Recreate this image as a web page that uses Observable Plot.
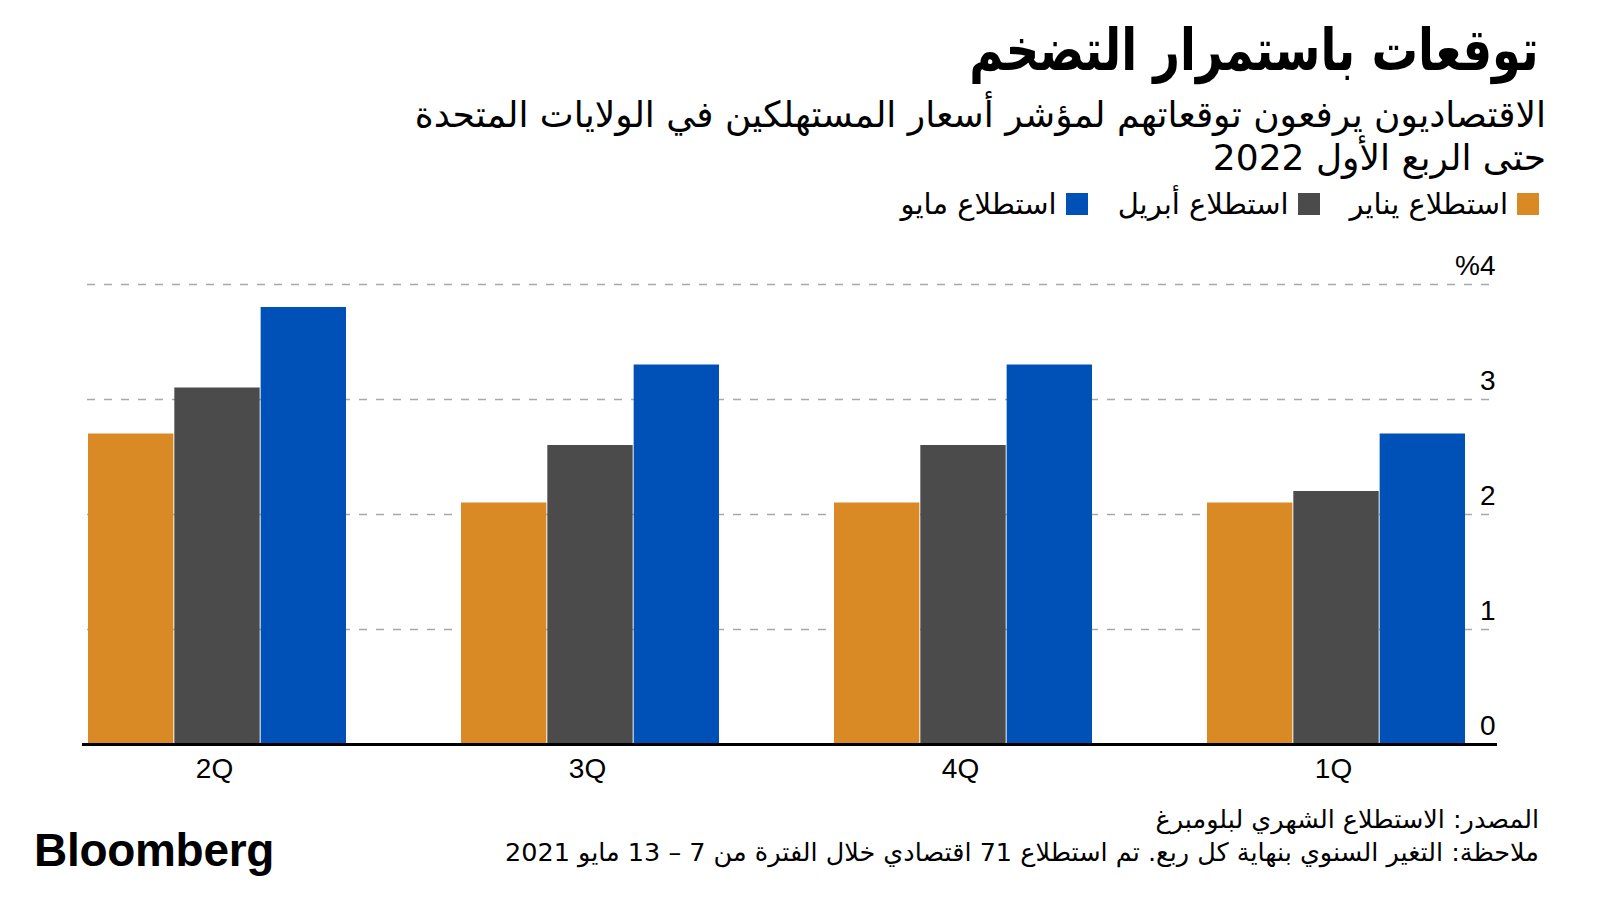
<!DOCTYPE html>
<html><head><meta charset="utf-8">
<script src="https://cdn.jsdelivr.net/npm/d3@7"></script>
<script src="https://cdn.jsdelivr.net/npm/@observablehq/plot@0.6"></script>
<style>
body{margin:0;background:#fff;}
#page{position:relative;width:1600px;height:900px;overflow:hidden;font-family:"DejaVu Sans",sans-serif;color:#000;background:#fff;}
.r{position:absolute;right:61px;direction:rtl;text-align:right;white-space:nowrap;}
#title{top:12px;font-size:58px;font-weight:bold;line-height:76px;transform:scaleX(0.8);transform-origin:right center;}
#sub1{top:94px;right:54px;font-size:36px;line-height:42px;}
#sub2{top:137px;right:54px;font-size:36px;line-height:42px;}
#legend{top:186px;display:flex;flex-direction:row;gap:30px;font-size:29px;line-height:36px;}
.item{display:flex;align-items:center;gap:9px;}
.sw{width:22px;height:22px;display:inline-block;}
#chart{position:absolute;left:0;top:240px;}
#src{top:803px;font-size:25.5px;line-height:32px;}
#note{top:836px;font-size:25.5px;line-height:32px;}
#logo{position:absolute;left:34px;top:825px;font-family:"Liberation Sans",Arial,sans-serif;font-weight:bold;font-size:46px;letter-spacing:-0.3px;line-height:50px;}
</style></head>
<body>
<div id="page">
  <div id="title" class="r">توقعات باستمرار التضخم</div>
  <div id="sub1" class="r">الاقتصاديون يرفعون توقعاتهم لمؤشر أسعار المستهلكين في الولايات المتحدة</div>
  <div id="sub2" class="r">حتى الربع الأول 2022</div>
  <div id="legend" class="r"></div>
  <div id="chart"></div>
  <div id="src" class="r">المصدر: الاستطلاع الشهري لبلومبرغ</div>
  <div id="note" class="r">ملاحظة: التغير السنوي بنهاية كل ربع. تم استطلاع 71 اقتصادي خلال الفترة من 7 – 13 مايو 2021</div>
  <div id="logo">Bloomberg</div>
</div>
<script>
const quarters = ["2Q", "3Q", "4Q", "1Q"];
const surveys = ["استطلاع يناير", "استطلاع أبريل", "استطلاع مايو"];
const janValues = [2.7, 2.1, 2.1, 2.1];
const aprValues = [3.1, 2.6, 2.6, 2.2];
const mayValues = [3.8, 3.3, 3.3, 2.7];
const surveyColors = ["#D98A24", "#4B4B4B", "#0051B7"];
const yTicks = [0, 1, 2, 3, 4];

const seriesValues = [janValues, aprValues, mayValues];
const rows = [];
surveys.forEach((s, i) => quarters.forEach((q, j) => rows.push({quarter: q, survey: s, value: seriesValues[i][j]})));

// legend
const legend = document.getElementById("legend");
surveys.forEach((s, i) => {
  const it = document.createElement("div");
  it.className = "item";
  const sw = document.createElement("span");
  sw.className = "sw";
  sw.style.background = surveyColors[i];
  const tx = document.createElement("span");
  tx.textContent = s;
  it.appendChild(sw);
  it.appendChild(tx);
  legend.appendChild(it);
});

const W = 1600, H = 560;
const xLeft = 87, xRight = 1467, padIn = 0.307;
const step = (xRight - xLeft) / (quarters.length - padIn);
const third = step * (1 - padIn) / 3;

const chart = Plot.plot({
  width: W, height: H,
  marginLeft: 87, marginRight: 103, marginTop: 44, marginBottom: 56,
  style: {fontFamily: "Liberation Sans, Arial, sans-serif", background: "#fff", color: "#000"},
  x: {domain: quarters, range: [xLeft, xRight], paddingInner: padIn, paddingOuter: 0, label: null},
  y: {domain: [0, 4], label: null},
  color: {domain: surveys, range: surveyColors},
  marks: [
    Plot.ruleY(yTicks.filter(d => d > 0), {stroke: "#a9a9a9", strokeWidth: 1.5, strokeDasharray: "8,9"}),
    ...surveys.map((s, i) => Plot.barY(rows.filter(r => r.survey === s), {
      x: "quarter", y: "value", fill: "survey",
      insetLeft: i * third, insetRight: (2 - i) * third
    })),
    Plot.ruleY([0], {stroke: "#000", strokeWidth: 3, insetLeft: -5}),
    Plot.axisX({tickSize: 0, tickPadding: 14, fontSize: 28, label: null, dx: -3}),
    Plot.axisY(yTicks, {anchor: "right", tickSize: 0, tickPadding: 0, textAnchor: "end", dx: -2, dy: -18, fontSize: 28, label: null,
      tickFormat: d => d === 4 ? "%4" : String(d)})
  ]
});
document.getElementById("chart").appendChild(chart);
</script>
</body></html>
